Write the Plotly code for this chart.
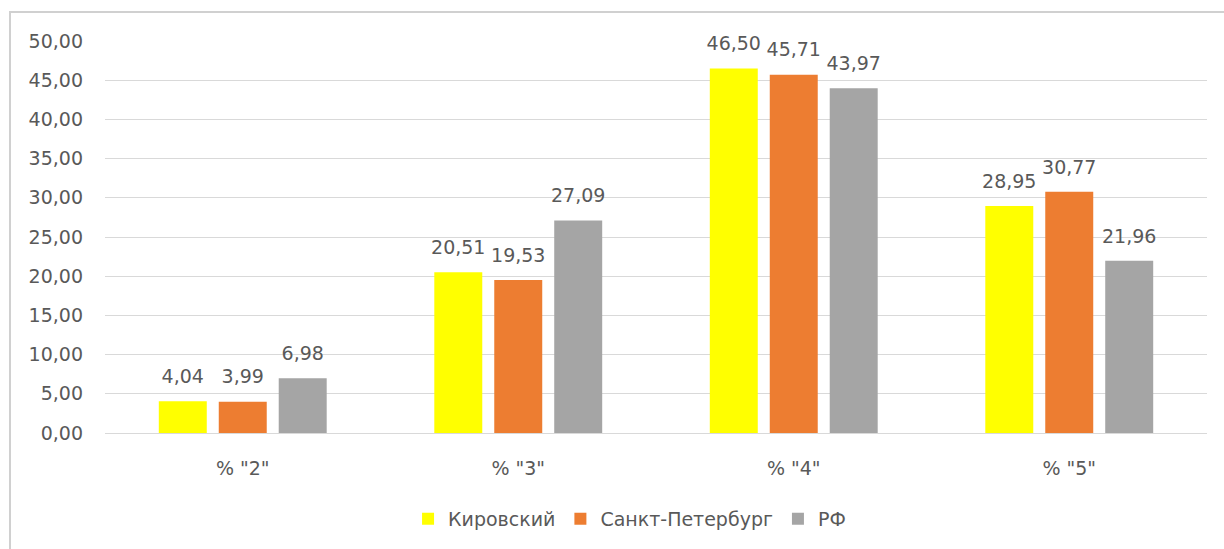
import plotly.graph_objects as go

categories = ['% "2"', '% "3"', '% "4"', '% "5"']
series_names = ["Кировский", "Санкт-Петербург", "РФ"]
kirovsky = [4.04, 20.51, 46.50, 28.95]
spb = [3.99, 19.53, 45.71, 30.77]
rf = [6.98, 27.09, 43.97, 21.96]
colors = ["#FFFF00", "#ED7D31", "#A5A5A5"]
y_ticks = [0, 5, 10, 15, 20, 25, 30, 35, 40, 45, 50]

FONT = "DejaVu Sans"
TXT = "#595959"
GAP = 0.347

fig = go.Figure()
for i, (name, vals, col) in enumerate(zip(series_names, [kirovsky, spb, rf], colors)):
    fig.add_trace(go.Bar(
        x=categories, y=vals, name=name,
        marker=dict(color=col, line=dict(width=0)),
        offsetgroup=str(i), alignmentgroup="a",
        hoverinfo="skip",
    ))
for i, (name, vals) in enumerate(zip(series_names, [kirovsky, spb, rf])):
    fig.add_trace(go.Scatter(
        x=categories, y=vals, mode="markers+text", showlegend=False,
        offsetgroup=str(i), alignmentgroup="a",
        marker=dict(size=20, opacity=0),
        texttemplate="%{y:.2f}", textposition="top center",
        textfont=dict(family=FONT, size=19, color=TXT),
        cliponaxis=False, hoverinfo="skip",
    ))

fig.update_layout(
    width=1224, height=549,
    margin=dict(l=105, r=17, t=41, b=115),
    paper_bgcolor="white", plot_bgcolor="white",
    barmode="group", bargap=GAP, bargroupgap=0.2,
    scattermode="group", scattergap=GAP,
    separators=", ",
    font=dict(family=FONT, size=19, color=TXT),
    showlegend=True,
    legend=dict(orientation="h", x=0.476, xanchor="center", y=-0.216, yanchor="middle",
                font=dict(family=FONT, size=19, color=TXT), itemwidth=30,
                traceorder="normal"),
    xaxis=dict(showgrid=False, showline=True, linecolor="#D9D9D9", linewidth=1,
               ticks="", tickfont=dict(family=FONT, size=19, color=TXT),
               ticklabelstandoff=18),
    yaxis=dict(range=[0, 50], tickvals=y_ticks, tickformat=".2f",
               showgrid=True, gridcolor="#D9D9D9", gridwidth=1,
               zeroline=False, showline=False, ticks="",
               tickfont=dict(family=FONT, size=19, color=TXT),
               ticklabelstandoff=21),
    shapes=[dict(type="rect", xref="paper", yref="paper",
                 x0=-0.0862, x1=1.03, y0=-0.32, y1=1.0738,
                 line=dict(color="#D0D0D0", width=2), fillcolor="rgba(0,0,0,0)",
                 layer="below")],
)

fig.write_html("out.html", config={"displayModeBar": False},
               post_script="document.body.style.margin='0';")
